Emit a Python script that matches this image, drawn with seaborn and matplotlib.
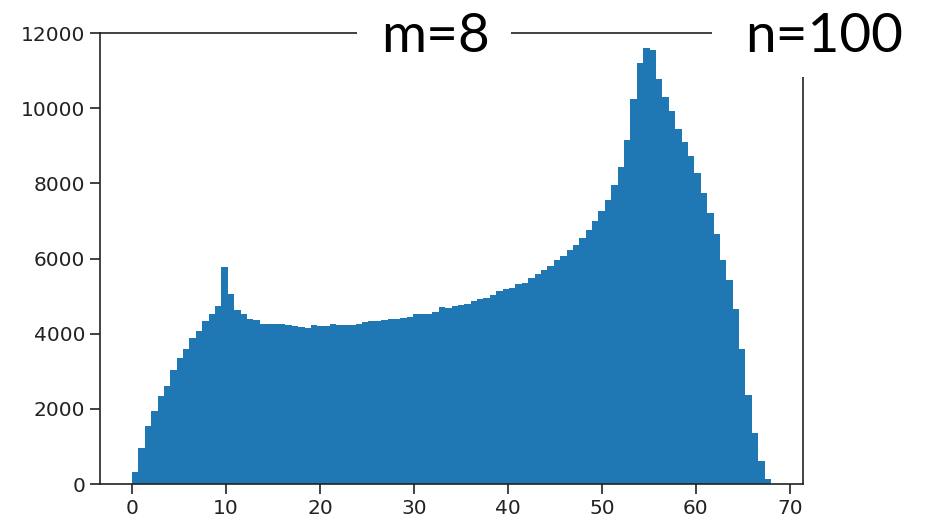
"""Histogram of bin counts (m=8, n=100) redrawn with seaborn."""

import matplotlib

matplotlib.use("Agg")
import matplotlib.pyplot as plt
import numpy as np
import pandas as pd
import seaborn as sns
from matplotlib.patches import Rectangle


# histogram range and bin count
BIN_LO = 0.0
BIN_HI = 68.0
N_BINS = 100

# counts per bin
COUNTS = [
	310, 960, 1530, 1940, 2335, 2605, 3025, 3350, 3590, 3885,
	4070, 4330, 4525, 4745, 5770, 5050, 4640, 4510, 4400, 4370,
	4265, 4270, 4255, 4245, 4220, 4200, 4165, 4160, 4235, 4200,
	4215, 4260, 4230, 4230, 4235, 4270, 4310, 4330, 4345, 4360,
	4380, 4400, 4410, 4450, 4510, 4515, 4530, 4570, 4700, 4675,
	4745, 4760, 4780, 4865, 4920, 4955, 5025, 5140, 5180, 5205,
	5320, 5355, 5470, 5600, 5700, 5800, 5950, 6065, 6225, 6360,
	6535, 6770, 7010, 7265, 7555, 7945, 8440, 9150, 10250, 11190,
	11590, 11545, 10765, 10305, 9930, 9455, 9100, 8740, 8265, 7735,
	7205, 6645, 5950, 5425, 4647, 3590, 2367, 1365, 612, 125,
]

X_TICKS = [0, 10, 20, 30, 40, 50, 60, 70]
Y_TICKS = [0, 2000, 4000, 6000, 8000, 10000, 12000]

M_LABEL = "m=8"
N_LABEL = "n=100"

W, H = 930, 522
BLUE = "#1f77b4"


def fx(px):
	return px / W


def fy(py):
	return 1 - py / H


edges = np.linspace(BIN_LO, BIN_HI, N_BINS + 1)
df = pd.DataFrame({
	"value": (edges[:-1] + edges[1:]) / 2,
	"count": COUNTS,
})

fig = plt.figure(figsize=(W / 100, H / 100), dpi=100)
ax = fig.add_axes([fx(100), fy(484), fx(803) - fx(100), fy(33) - fy(484)])

# filled step shape: same look as edge-less bars, without seams between them
sns.histplot(
	data=df, x="value", weights="count", bins=N_BINS, binrange=(BIN_LO, BIN_HI),
	element="step", fill=True, ax=ax, color=BLUE, alpha=1, linewidth=0,
)

ax.set_xlim(-3.4, 71.4)
ax.set_ylim(0, 12000)
ax.set_xticks(X_TICKS)
ax.set_yticks(Y_TICKS)
ax.set_xlabel("")
ax.set_ylabel("")
ax.tick_params(labelsize=14.5, length=7, width=1.2, colors="#222222")
for sp in ax.spines.values():
	sp.set_linewidth(1.2)
	sp.set_color("#222222")

# white boxes with the big labels sitting on the top spine
for x0, y0, x1, y1 in [(357, 0, 511, 70), (712, 0, 930, 77)]:
	fig.add_artist(Rectangle(
		(fx(x0), fy(y1)), fx(x1) - fx(x0), fy(y0) - fy(y1),
		transform=fig.transFigure, facecolor="white", edgecolor="none", zorder=5,
	))

fig.text(fx(381), fy(52), M_LABEL, family="Lato", fontsize=39.5, color="black",
	ha="left", va="baseline", zorder=6)
fig.text(fx(745), fy(52), N_LABEL, family="Lato", fontsize=39.5, color="black",
	ha="left", va="baseline", zorder=6)

fig.savefig("out.png", dpi=100)
plt.close(fig)
